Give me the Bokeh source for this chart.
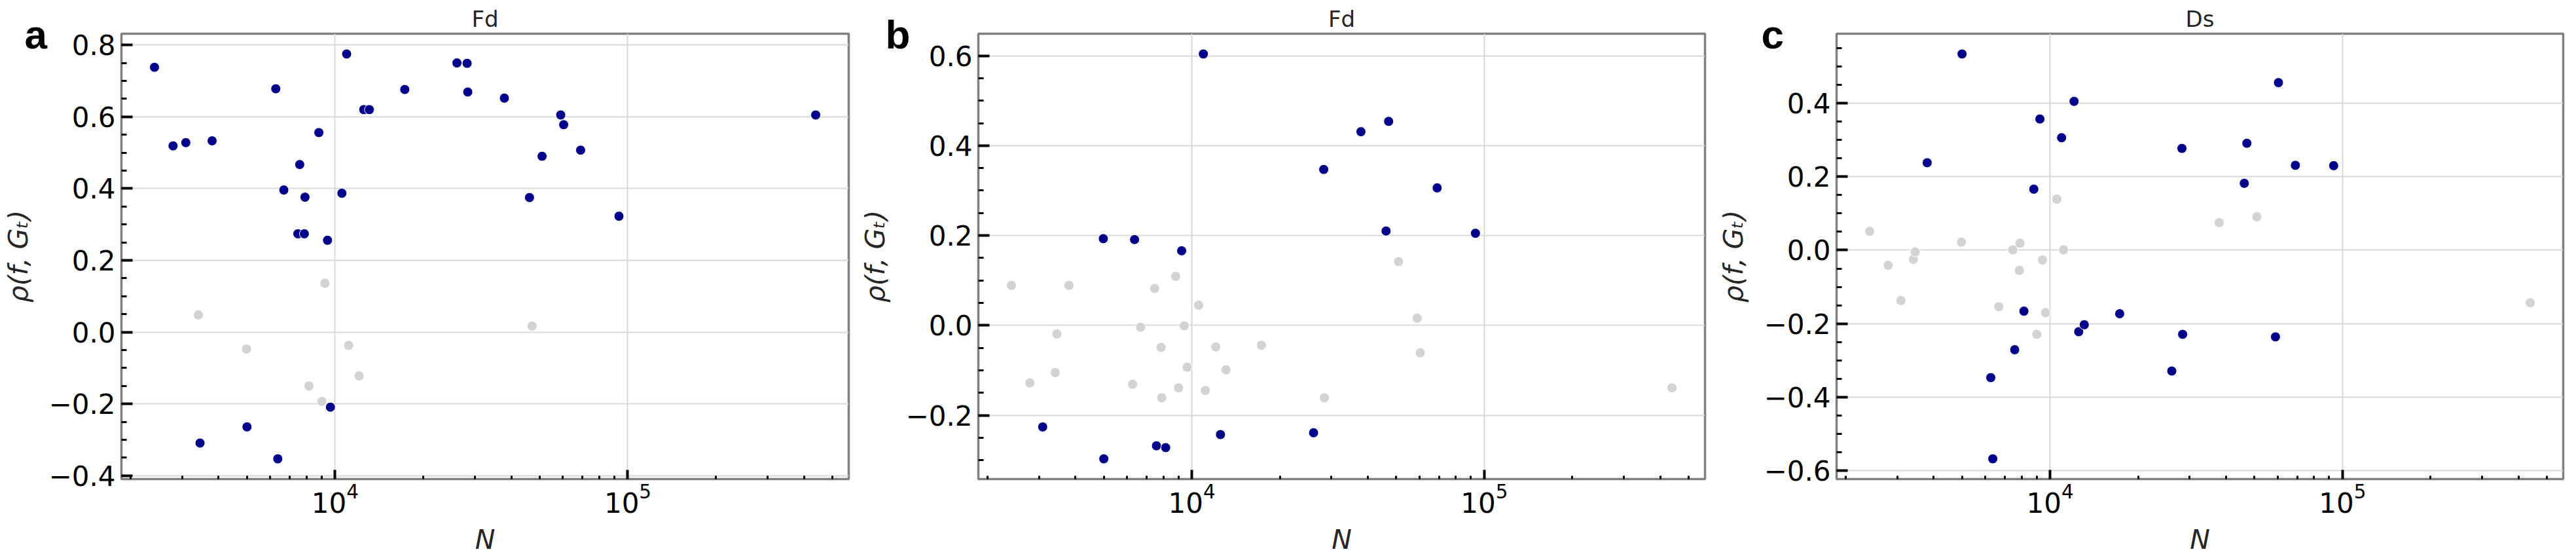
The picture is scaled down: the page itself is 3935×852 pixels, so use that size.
import numpy as np
from bokeh.plotting import figure
from bokeh.layouts import row
from bokeh.models import (ColumnDataSource, Range1d, FixedTicker, SingleIntervalTicker,
                          CustomJSTickFormatter, Title)
from bokeh.embed import file_html
from bokeh.resources import INLINE

# ---------------- data ----------------
N = [2415, 2795, 3090, 3410, 3455, 3800, 4980, 5000, 6270, 6370,
     6680, 7460, 7570, 7850, 7890, 8140, 8800, 9010, 9230, 9420,
     9640, 10550, 10950, 11120, 12080, 12530, 13090, 17300, 26080, 28250,
     28400, 37870, 46150, 47100, 50950, 59000, 60400, 69000, 93300, 438500]

rho_a = [0.738, 0.519, 0.528, 0.048, -0.309, 0.533, -0.047, -0.264, 0.678, -0.353,
         0.396, 0.274, 0.467, 0.274, 0.376, -0.150, 0.556, -0.193, 0.136, 0.256,
         -0.209, 0.387, 0.775, -0.037, -0.122, 0.620, 0.620, 0.676, 0.750, 0.749,
         0.669, 0.652, 0.375, 0.017, 0.490, 0.605, 0.578, 0.507, 0.323, 0.605]
sig_a = [1, 1, 1, 0, 1, 1, 0, 1, 1, 1,
         1, 1, 1, 1, 1, 0, 1, 0, 0, 1,
         1, 1, 1, 0, 0, 1, 1, 1, 1, 1,
         1, 1, 1, 0, 1, 1, 1, 1, 1, 1]

rho_b = [0.089, -0.128, -0.226, -0.105, -0.019, 0.089, 0.193, -0.297, -0.131, 0.191,
         -0.004, 0.082, -0.268, -0.049, -0.161, -0.272, 0.109, -0.139, 0.166, -0.001,
         -0.093, 0.045, 0.604, -0.145, -0.048, -0.243, -0.099, -0.044, -0.239, 0.347,
         -0.161, 0.431, 0.210, 0.454, 0.142, 0.016, -0.061, 0.306, 0.205, -0.139]
sig_b = [0, 0, 1, 0, 0, 0, 1, 1, 0, 1,
         0, 0, 1, 0, 0, 1, 0, 0, 1, 0,
         0, 0, 1, 0, 0, 1, 0, 0, 1, 1,
         0, 1, 1, 1, 0, 0, 0, 1, 1, 0]

rho_c = [0.051, -0.041, -0.137, -0.025, -0.005, 0.238, 0.022, 0.534, -0.347, -0.568,
         -0.154, 0.001, -0.271, -0.055, 0.019, -0.166, 0.166, -0.229, 0.357, -0.027,
         -0.170, 0.139, 0.306, 0.001, 0.405, -0.222, -0.203, -0.173, -0.329, 0.277,
         -0.229, 0.075, 0.182, 0.291, 0.091, -0.236, 0.456, 0.231, 0.230, -0.143]
sig_c = [0, 0, 0, 0, 0, 1, 0, 1, 1, 1,
         0, 0, 1, 0, 0, 1, 1, 0, 1, 0,
         0, 0, 1, 0, 1, 1, 1, 1, 1, 1,
         1, 0, 1, 1, 0, 1, 1, 1, 1, 0]

panel_letters = ["a", "b", "c"]
panel_titles = ["Fd", "Fd", "Ds"]
x_major = [1e4, 1e5]
x_minor = [m * 10.0 ** e for e in (3, 4, 5) for m in range(2, 10)]
x_label = "N"
y_label = "ρ(f, Gₜ)"

SIG_COLOR = "#00008b"
NS_COLOR = "#d3d3d3"
TXT = "#262626"

yfmt_code = """
const v = Math.abs(tick) < 1e-9 ? 0 : tick;
return v.toFixed(1).replace('-', '\u2212');
"""

# geometry per panel: (min_border_left, min_border_right, min_border_top, min_border_bottom,
#                      frame_w, letter offset from frame left)
geom = [
    (173, 6, 51, 105, 1111, -148),
    (192, 11, 45, 111, 1110, -142),
    (190, 10, 45, 111, 1110, -115),
]


def make_panel(i, rho, sig):
    lx = np.log10(N)
    xpad = 0.05 * (lx.max() - lx.min())
    ymin, ymax = min(rho), max(rho)
    ypad = 0.05 * (ymax - ymin)
    bl, br, bt, bb, fw, loff = geom[i]
    p = figure(x_axis_type="log",
               x_range=Range1d(10 ** (lx.min() - xpad), 10 ** (lx.max() + xpad)),
               y_range=Range1d(ymin - ypad, ymax + ypad),
               frame_width=fw, frame_height=680,
               min_border_left=bl, min_border_right=br,
               min_border_top=bt, min_border_bottom=bb,
               output_backend="svg", toolbar_location=None,
               background_fill_color="white", border_fill_color="white")
    p.outline_line_color = "#808080"
    p.outline_line_width = 3.5

    # panel letter: a thin title panel right above the frame (text drawn past its edge)
    p.add_layout(Title(text=panel_letters[i], align="left", offset=loff,
                       vertical_align="bottom", standoff=-70,
                       text_font="Liberation Sans", text_font_style="bold",
                       text_font_size="62px", text_color="black"), "above")

    p.title.text = panel_titles[i]
    p.title.align = "center"
    p.title.standoff = 4
    p.title.text_font = "DejaVu Sans"
    p.title.text_font_size = "34px"
    p.title.text_font_style = "normal"
    p.title.text_color = TXT

    # x axis
    p.xaxis.ticker = FixedTicker(ticks=x_major, minor_ticks=x_minor)
    p.xaxis.axis_label = x_label
    # y axis
    p.yaxis.ticker = SingleIntervalTicker(interval=0.2, num_minor_ticks=4)
    p.yaxis.formatter = CustomJSTickFormatter(code=yfmt_code)
    p.yaxis.axis_label = y_label

    for ax in (p.xaxis[0], p.yaxis[0]):
        ax.axis_line_color = None
        ax.major_tick_out = 0
        ax.minor_tick_out = 0
        ax.major_tick_line_color = "black"
        ax.minor_tick_line_color = "black"
        ax.major_tick_line_width = 4
        ax.minor_tick_line_width = 3
        ax.major_label_text_font = "DejaVu Sans"
        ax.major_label_text_font_size = "42px"
        ax.major_label_text_color = "black"
        ax.axis_label_text_font = "DejaVu Sans"
        ax.axis_label_text_font_size = "41px"
        ax.axis_label_text_font_style = "italic"
        ax.axis_label_text_color = TXT
    p.xaxis.major_tick_in = 14
    p.xaxis.minor_tick_in = 5
    p.yaxis.major_tick_in = 17
    p.yaxis.minor_tick_in = 8
    p.xaxis.major_label_standoff = 6
    p.yaxis.major_label_standoff = 9
    p.xaxis.axis_label_standoff = 14
    p.yaxis.axis_label_standoff = 20

    for g in (p.xgrid[0], p.ygrid[0]):
        g.grid_line_color = "#d9d9d9"
        g.grid_line_width = 2

    src = ColumnDataSource(dict(
        x=N, y=rho,
        color=[SIG_COLOR if s else NS_COLOR for s in sig],
    ))
    p.scatter("x", "y", source=src, size=15, fill_color="color",
              line_color="white", line_width=1)
    return p


pa = make_panel(0, rho_a, sig_a)
pb = make_panel(1, rho_b, sig_b)
pc = make_panel(2, rho_c, sig_c)

layout = row(pa, pb, pc)
open("out.html", "w").write(file_html(layout, INLINE))
